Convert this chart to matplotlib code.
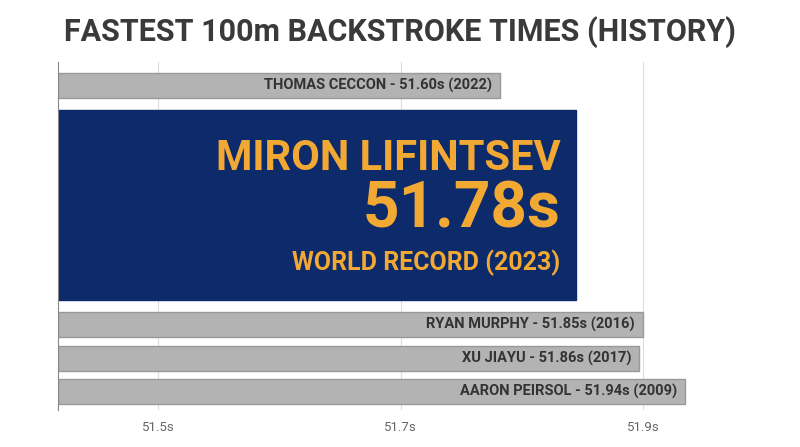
import matplotlib
matplotlib.use("Agg")
import matplotlib.pyplot as plt
from matplotlib import font_manager

names = ["THOMAS CECCON", "MIRON LIFINTSEV", "RYAN MURPHY", "XU JIAYU", "AARON PEIRSOL"]
times = ["51.60s", "51.78s", "51.85s", "51.86s", "51.94s"]
years = ["2022", "2023", "2016", "2017", "2009"]
bar_ends = [51.782, 51.845, 51.900, 51.897, 51.935]   # bar lengths as drawn in the picture
tick_values = [51.5, 51.7, 51.9]
tick_labels = ["51.5s", "51.7s", "51.9s"]

avail = {f.name for f in font_manager.fontManager.ttflist}
cond = "Liberation Sans Narrow" if "Liberation Sans Narrow" in avail else "Roboto"
plt.rcParams['font.family'] = [cond, 'DejaVu Sans']

base = 51.4175
ycent = [85, 205, 324, 358, 391]
heights = [25, 190, 25, 25, 25]
colors = ["#b3b3b3", "#0d2a6b", "#b3b3b3", "#b3b3b3", "#b3b3b3"]
edges = ["#999999", "#0d2a6b", "#999999", "#999999", "#999999"]

fig = plt.figure(figsize=(8, 4.47), dpi=100)
ax = fig.add_axes([58/800, (447-410)/447, (775-58)/800, (410-62)/447])
ax.set_xlim(base, base + (775-58)/1212.5)
ax.set_ylim(410, 62)
for v in tick_values:
    ax.axvline(v, color="#dddddd", lw=0.8, zorder=0)
for i in range(len(names)):
    ax.barh(ycent[i], bar_ends[i]-base, left=base, height=heights[i],
            color=colors[i], edgecolor=edges[i], lw=1, zorder=2)
    if i == 1:
        x = bar_ends[i] - 16/1212.5
        ax.text(x, 158, names[i], ha="right", va="center", color="#f2a934",
                fontsize=30, fontweight="bold", zorder=3)
        ax.text(x, 210, times[i], ha="right", va="center", color="#f2a934",
                fontsize=46, fontweight="bold", zorder=3)
        ax.text(x, 263, f"WORLD RECORD ({years[i]})", ha="right", va="center",
                color="#f2a934", fontsize=18, fontweight="bold", zorder=3)
    else:
        ax.text(bar_ends[i] - 8/1212.5, ycent[i], f"{names[i]} - {times[i]} ({years[i]})",
                ha="right", va="center", color="#333333", fontsize=10.5,
                fontweight="bold", zorder=3)
ax.set_xticks(tick_values)
ax.set_xticklabels(tick_labels, color="#666666", fontsize=9.5)
ax.tick_params(axis="x", length=0, pad=8)
ax.set_yticks([])
for s in ["top", "right", "bottom"]:
    ax.spines[s].set_visible(False)
ax.spines["left"].set_color("#888888")
fig.text(0.5, 1-32/447, "FASTEST 100m BACKSTROKE TIMES (HISTORY)", ha="center",
         va="center", fontsize=22, fontweight="bold", color="#3a3a3a")
fig.savefig("out.png", dpi=100)
